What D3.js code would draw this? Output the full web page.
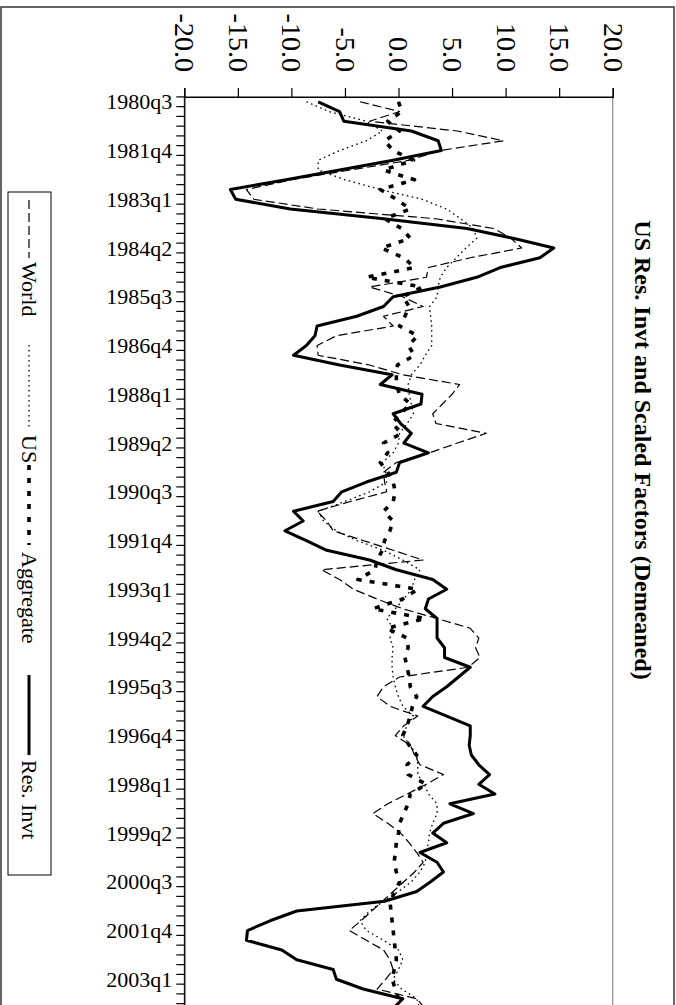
<!DOCTYPE html>
<html>
<head>
<meta charset="utf-8">
<script src="https://cdn.jsdelivr.net/npm/d3@7"></script>
<style>
  body { margin: 0; background: #fff; }
  svg { display: block; }
  text { font-family: "Liberation Serif", "Times New Roman", serif; fill: #000; }
</style>
</head>
<body>
<svg id="chart" width="676" height="1005"></svg>
<script>
// Quarterly categories, 1980q3 .. 2003q4
const quarters = ("1980q3 1980q4 1981q1 1981q2 1981q3 1981q4 1982q1 1982q2 1982q3 1982q4 " +
  "1983q1 1983q2 1983q3 1983q4 1984q1 1984q2 1984q3 1984q4 1985q1 1985q2 1985q3 1985q4 " +
  "1986q1 1986q2 1986q3 1986q4 1987q1 1987q2 1987q3 1987q4 1988q1 1988q2 1988q3 1988q4 " +
  "1989q1 1989q2 1989q3 1989q4 1990q1 1990q2 1990q3 1990q4 1991q1 1991q2 1991q3 1991q4 " +
  "1992q1 1992q2 1992q3 1992q4 1993q1 1993q2 1993q3 1993q4 1994q1 1994q2 1994q3 1994q4 " +
  "1995q1 1995q2 1995q3 1995q4 1996q1 1996q2 1996q3 1996q4 1997q1 1997q2 1997q3 1997q4 " +
  "1998q1 1998q2 1998q3 1998q4 1999q1 1999q2 1999q3 1999q4 2000q1 2000q2 2000q3 2000q4 " +
  "2001q1 2001q2 2001q3 2001q4 2002q1 2002q2 2002q3 2002q4 2003q1 2003q2 2003q3 2003q4").split(" ");

// Labelled categories on the time axis
const quarterLabels = ["1980q3","1981q4","1983q1","1984q2","1985q3","1986q4","1988q1","1989q2",
  "1990q3","1991q4","1993q1","1994q2","1995q3","1996q4","1998q1","1999q2","2000q3","2001q4","2003q1"];

// Value axis ticks
const valueTicks = [-20, -15, -10, -5, 0, 5, 10, 15, 20];

// Series (demeaned)
const world = [-3.6,0.1,-2.7,5.5,9.8,3.9,1.0,-4.5,-10.0,-14.2,-13.5,-7.5,3.5,8.9,10.5,11.5,6.7,2.8,2.6,-2.7,
  0.4,2.3,-1.4,-0.5,-5.8,-7.6,-7.5,-2.7,0.4,5.7,5.0,4.1,3.2,3.5,8.2,5.5,2.9,-0.2,-1.4,-1.3,
  -1.1,-4.5,-7.6,-6.7,-6.1,-3.3,-0.5,2.3,-7.2,-5.5,-4.2,-2.0,0.4,3.6,6.7,7.5,7.2,7.6,6.5,0.1,
  -1.4,-2.0,-0.8,1.8,0.5,-0.3,1.1,1.5,2.0,4.2,2.6,0.8,-1.0,-2.4,-1.0,0.2,1.0,1.7,2.3,1.5,
  0.5,-0.5,-1.5,-2.5,-3.5,-4.6,-3.0,-1.4,-0.8,-0.5,-1.2,-2.0,1.7,2.5];

const us = [-8.6,-6.5,-3.0,-1.5,-3.0,-5.5,-7.5,-7.5,-5.0,-1.7,2.2,4.5,5.8,7.0,7.3,6.3,5.4,4.5,3.9,3.7,
  3.6,2.9,3.0,3.1,3.1,3.1,2.5,2.0,1.2,0.9,1.0,1.2,1.4,0.8,0.1,0.0,-0.5,-1.5,-1.2,-1.1,
  -2.7,-5.0,-7.5,-7.0,-5.8,-3.9,-1.4,0.4,2.0,1.5,1.2,0.5,-0.3,-1.1,-0.5,-0.8,-0.5,-0.6,-0.6,-0.5,
  -0.3,0.0,0.4,1.4,0.8,0.4,1.1,1.7,1.8,1.8,2.4,2.8,3.6,3.6,3.2,2.9,2.8,2.6,2.5,2.0,
  1.2,0.0,-1.4,-2.7,-3.6,-3.0,-1.4,0.0,0.4,0.0,-0.5,0.3,1.7,2.0];

const aggregate = [0.0,0.3,-1.0,0.1,-1.3,-0.5,1.4,-1.4,1.5,-1.7,-0.2,1.1,-1.3,0.3,1.1,-1.6,0.5,1.5,-3.0,2.2,
  0.4,1.0,0.6,0.1,1.8,0.9,1.5,-0.1,-0.2,-0.2,0.1,1.1,0.2,-0.6,0.3,-1.4,-1.0,-1.7,-1.0,-0.5,
  -0.3,-0.5,-1.4,-0.5,-0.8,-1.3,-1.5,-2.0,-2.2,-3.8,1.8,0.4,-2.4,2.5,-1.1,0.8,0.9,0.6,0.8,1.0,
  1.1,1.7,1.3,1.1,0.8,0.4,1.0,1.7,0.8,0.9,2.6,1.1,0.9,0.5,0.1,0.0,-0.2,-0.3,-0.4,-0.2,
  0.1,-0.3,-0.8,-0.7,-0.6,-0.5,-0.4,-0.3,-0.2,-0.4,-0.6,-0.3,0.0,0.2];

const resInvt = [-7.5,-5.5,-5.1,1.2,3.7,4.0,-0.5,-5.5,-10.5,-15.7,-15.2,-10.1,-1.4,6.4,10.7,14.5,13.2,9.5,7.3,3.9,
  -0.5,-1.4,-3.9,-7.6,-7.8,-8.6,-9.8,-5.5,-0.6,-1.7,2.2,2.1,-0.5,0.2,1.2,0.5,2.8,0.1,-0.2,-3.0,
  -5.3,-6.1,-9.8,-8.9,-10.6,-8.6,-6.7,-2.7,-0.2,3.2,4.5,2.8,2.5,3.6,3.6,3.6,4.3,4.3,6.7,5.6,
  4.5,3.2,2.3,4.5,6.7,6.7,6.6,6.8,7.5,8.5,7.5,9.0,4.8,7.0,4.2,3.2,4.5,2.0,3.6,4.2,
  3.0,1.7,-1.3,-9.5,-12.0,-14.1,-14.2,-10.9,-9.5,-6.1,-5.8,-3.3,0.4,-0.5];

const seriesNames = ["World", "US", "Aggregate", "Res. Invt"];
const seriesValues = [world, us, aggregate, resInvt];
const seriesStyle = [
  { width: 1.2, dash: "9,4" },
  { width: 1.3, dash: "1.6,3.4" },
  { width: 3.6, dash: "5,8" },
  { width: 3.0, dash: null }
];

const svg = d3.select("#chart");

// Chart frame
svg.append("rect")
  .attr("x", 1).attr("y", 7).attr("width", 673).attr("height", 1100)
  .attr("fill", "#fff").attr("stroke", "#333").attr("stroke-width", 1.5);

// Plot geometry: time runs downwards, values run left to right
const plotLeft = 184.3, plotRight = 612.7, plotTop = 96.9, step = 9.75;
const y = d3.scaleBand().domain(quarters).range([plotTop, plotTop + step * quarters.length]).padding(0);
const x = d3.scaleLinear().domain([-20, 20]).range([plotLeft, plotRight]);

// Plot area border (grey) on the far sides
svg.append("rect")
  .attr("x", plotLeft).attr("y", plotTop)
  .attr("width", plotRight - plotLeft).attr("height", step * quarters.length)
  .attr("fill", "none").attr("stroke", "#8c8c8c").attr("stroke-width", 1.2);

// Value axis along the top
const xAxis = svg.append("g")
  .attr("transform", `translate(0,${plotTop})`)
  .call(d3.axisTop(x).tickValues(valueTicks).tickSize(9).tickFormat(d => d.toFixed(1)));
xAxis.select(".domain").attr("stroke", "#000").attr("stroke-width", 1.3);
xAxis.selectAll(".tick line").attr("stroke", "#000").attr("stroke-width", 1.2);
xAxis.selectAll(".tick text")
  .attr("transform", "rotate(90)")
  .attr("x", -25).attr("y", 0).attr("dy", "0.34em")
  .style("text-anchor", "end")
  .style("font-size", "28px");

// Time axis along the left: a tick between every quarter, a label every fifth quarter
const yAxis = svg.append("g")
  .attr("transform", `translate(${plotLeft},0)`)
  .call(d3.axisLeft(y).tickValues(quarterLabels).tickSize(0).tickPadding(12));
yAxis.select(".domain").attr("stroke", "#000").attr("stroke-width", 1.3);
yAxis.selectAll(".tick text").style("font-size", "22px").attr("dy", "0.34em");
yAxis.selectAll("line.qtick")
  .data(quarters)
  .join("line")
  .attr("class", "qtick")
  .attr("x1", -8).attr("x2", 0)
  .attr("y1", d => y(d)).attr("y2", d => y(d))
  .attr("stroke", "#000").attr("stroke-width", 1.2);

// Series lines
const line = d3.line()
  .x(d => x(d.v))
  .y(d => y(d.q) + y.bandwidth() / 2);

const plot = svg.append("g");
seriesValues.forEach((vals, k) => {
  const pts = vals.map((v, i) => ({ q: quarters[i], v }));
  plot.append("path")
    .datum(pts)
    .attr("d", line)
    .attr("fill", "none")
    .attr("stroke", "#000")
    .attr("stroke-width", seriesStyle[k].width)
    .attr("stroke-linejoin", "round")
    .attr("stroke-dasharray", seriesStyle[k].dash);
});

// Title, rotated along the right edge
svg.append("text")
  .attr("transform", "translate(643,450) rotate(90)")
  .attr("text-anchor", "middle")
  .attr("dy", "0.35em")
  .style("font-size", "24px")
  .style("font-weight", "bold")
  .text("US Res. Invt and Scaled Factors (Demeaned)");

// Legend, rotated, down the left edge
const legend = svg.append("g").attr("transform", "translate(29,0)");
legend.append("rect")
  .attr("x", -21).attr("y", 192).attr("width", 43).attr("height", 683)
  .attr("fill", "#fff").attr("stroke", "#000").attr("stroke-width", 1);
const legendItems = [
  { name: seriesNames[0], s: 200, e: 258, t: 262 },
  { name: seriesNames[1], s: 345, e: 430, t: 435 },
  { name: seriesNames[2], s: 465, e: 545, t: 552 },
  { name: seriesNames[3], s: 675, e: 755, t: 760 }
];
legendItems.forEach((it, k) => {
  legend.append("line")
    .attr("x1", 0).attr("x2", 0).attr("y1", it.s).attr("y2", it.e)
    .attr("stroke", "#000")
    .attr("stroke-width", seriesStyle[k].width)
    .attr("stroke-dasharray", seriesStyle[k].dash);
  legend.append("text")
    .attr("transform", `translate(0,${it.t}) rotate(90)`)
    .attr("dy", "0.34em")
    .style("font-size", "22px")
    .text(it.name);
});
</script>
</body>
</html>
